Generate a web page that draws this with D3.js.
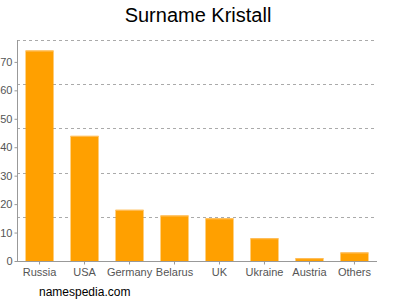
<!DOCTYPE html>
<html>
<head>
<meta charset="utf-8">
<script src="https://cdnjs.cloudflare.com/ajax/libs/d3/7.8.5/d3.min.js"></script>
<style>
  body { margin: 0; background: #fff; }
  svg { font-family: "Liberation Sans", Arial, sans-serif; }
</style>
</head>
<body>
<svg id="chart" width="400" height="300"></svg>
<script>
const countries = ["Russia", "USA", "Germany", "Belarus", "UK", "Ukraine", "Austria", "Others"];
const counts = [74, 44, 18, 16, 15, 8, 1, 3];
const yTicks = [0, 10, 20, 30, 40, 50, 60, 70];

const svg = d3.select("#chart");
const plotLeft = 17, plotRight = 377, plotTop = 40, plotBottom = 261;

const x = d3.scaleBand()
    .domain(countries)
    .range([plotLeft, plotRight])
    .paddingInner(0.378)
    .paddingOuter(0.19);

const y = d3.scaleLinear()
    .domain([0, 77.7])
    .range([plotBottom, plotTop]);

// title
svg.append("text")
    .attr("x", 198)
    .attr("y", 22)
    .attr("text-anchor", "middle")
    .attr("font-size", "20px")
    .attr("fill", "#000")
    .text("Surname Kristall");

// dashed grid, 5 equal parts of the plot
const grid = d3.range(1, 6).map(i => y.domain()[1] * i / 5);
svg.append("g").selectAll("line")
    .data(grid)
    .enter().append("line")
    .attr("x1", plotLeft)
    .attr("x2", plotRight)
    .attr("y1", d => Math.round(y(d)) + 0.5)
    .attr("y2", d => Math.round(y(d)) + 0.5)
    .attr("stroke", "#aaa")
    .attr("stroke-dasharray", "3,3");

// bars
const bars = svg.append("g").selectAll("g")
    .data(countries.map((c, i) => ({name: c, val: counts[i]})))
    .enter().append("g");

bars.append("rect")
    .attr("x", d => x(d.name))
    .attr("y", d => y(d.val))
    .attr("width", x.bandwidth())
    .attr("height", d => plotBottom - y(d.val))
    .attr("fill", "#ffa000");

bars.append("rect")
    .attr("x", d => x(d.name))
    .attr("y", d => y(d.val))
    .attr("width", x.bandwidth())
    .attr("height", 1)
    .attr("fill", "#ffc062");

// y axis
const yAxis = svg.append("g")
    .attr("transform", "translate(" + (plotLeft + 0.5) + ",0)")
    .call(d3.axisLeft(y).tickValues(yTicks).tickSize(3).tickPadding(2));
yAxis.select(".domain").attr("stroke", "#999").attr("d", "M0," + plotTop + "V" + plotBottom);
yAxis.selectAll(".tick line").attr("stroke", "#999");
yAxis.selectAll(".tick text").attr("fill", "#555").attr("font-size", "11px")
    .attr("font-family", "Liberation Sans, Arial, sans-serif");

// x axis
const xAxis = svg.append("g")
    .attr("transform", "translate(0," + (plotBottom + 0.5) + ")")
    .call(d3.axisBottom(x).tickSize(3).tickPadding(4));
xAxis.select(".domain").attr("stroke", "#999").attr("d", "M" + plotLeft + ",0H" + plotRight);
xAxis.selectAll(".tick line").attr("stroke", "#999");
xAxis.selectAll(".tick text").attr("fill", "#555").attr("font-size", "11px")
    .attr("font-family", "Liberation Sans, Arial, sans-serif");

// footer
svg.append("text")
    .attr("x", 39)
    .attr("y", 296)
    .attr("font-size", "12px")
    .attr("fill", "#000")
    .text("namespedia.com");
</script>
</body>
</html>
